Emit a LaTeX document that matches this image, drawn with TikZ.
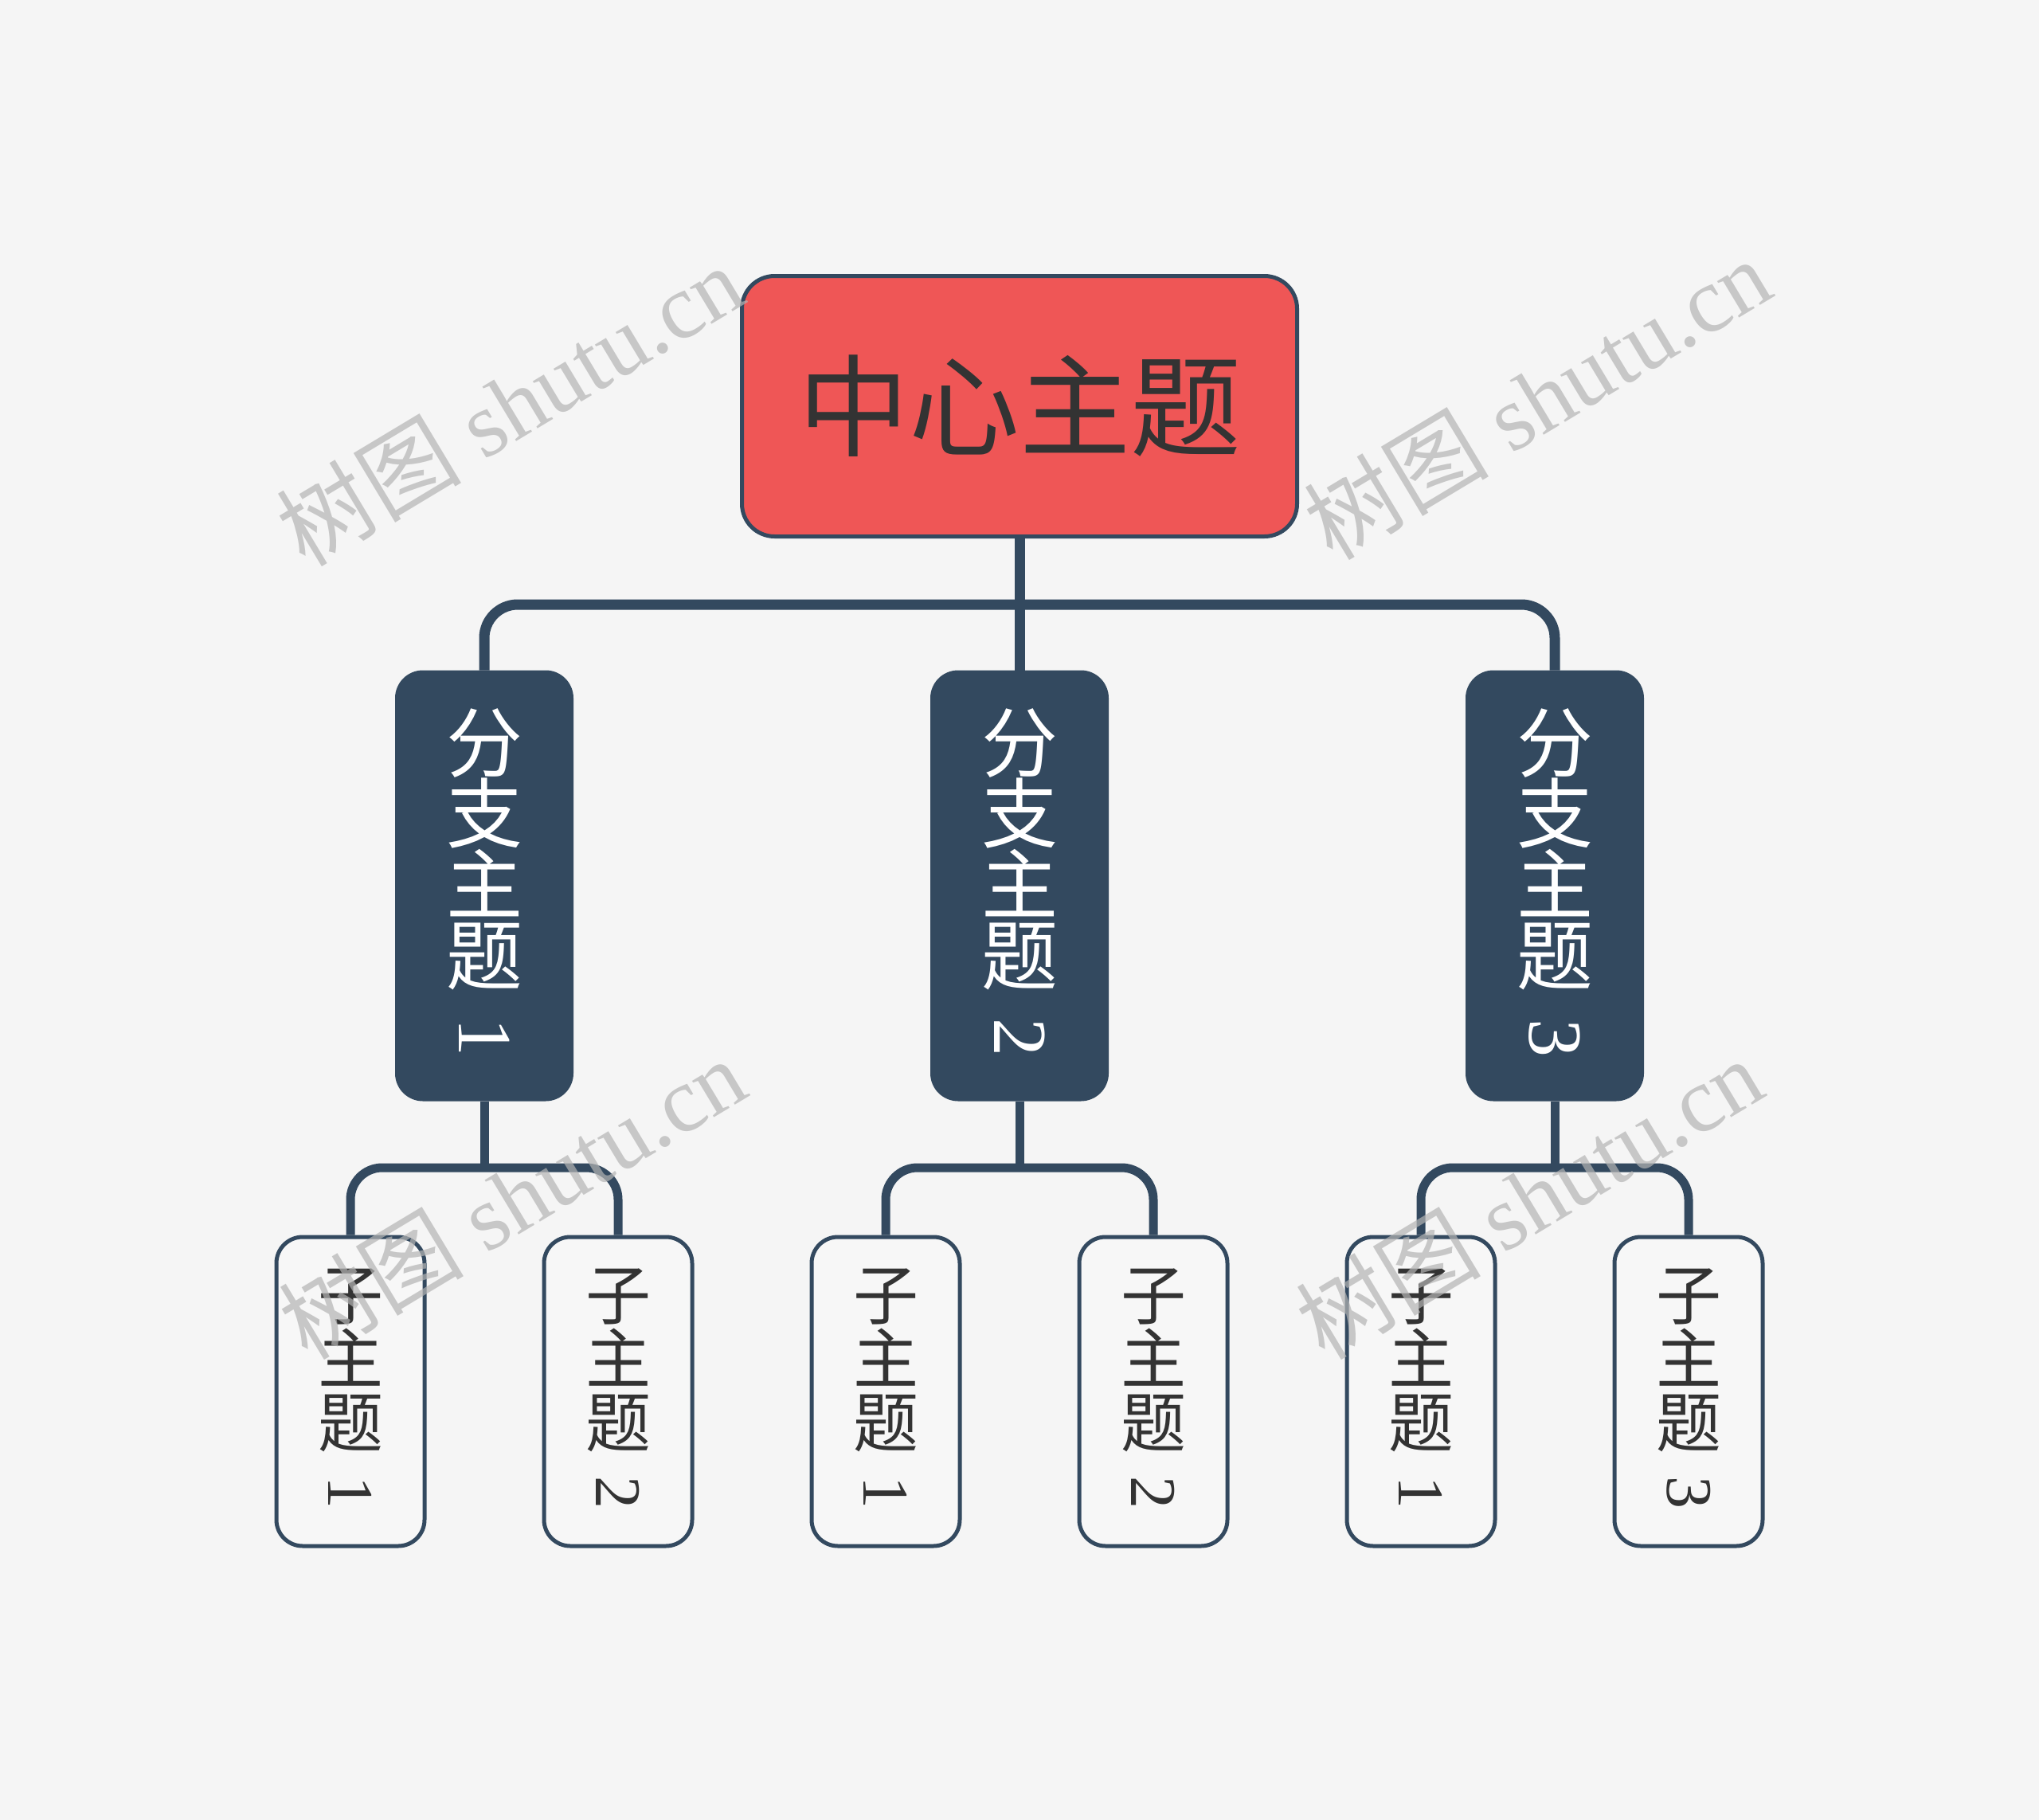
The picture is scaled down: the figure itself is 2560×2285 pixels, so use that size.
\documentclass[tikz,border=0pt]{standalone}
\usepackage{fontspec}
\usepackage{graphicx}
\usetikzlibrary{backgrounds}
\newfontfamily\cjk{Noto Sans CJK SC}
\newfontfamily\serifdig{Liberation Serif}
\definecolor{bgc}{HTML}{F5F5F5}
\definecolor{redc}{HTML}{EF5656}
\definecolor{navy}{HTML}{33495F}
\definecolor{darktxt}{HTML}{333333}
\definecolor{childfill}{HTML}{F7F7F7}
\definecolor{wmc}{HTML}{B4B4B4}
\newcommand\rdig[1]{{\serifdig\rotatebox[origin=c]{-90}{#1}}}
\tikzset{
  centralbox/.style={draw=navy, line width=5pt, fill=redc, rounded corners=41pt,
    minimum width=697pt, minimum height=327pt, inner sep=0pt,
    font=\cjk\fontsize{139}{139}\selectfont, text=darktxt},
  branchbox/.style={draw=navy, line width=4pt, fill=navy, rounded corners=33pt,
    minimum width=220pt, minimum height=537pt, inner sep=0pt, align=center,
    font=\cjk\fontsize{96}{89}\selectfont, text=white},
  childbox/.style={draw=navy, line width=5pt, fill=childfill, rounded corners=33pt,
    minimum width=186pt, minimum height=388pt, inner sep=0pt, align=center,
    font=\cjk\fontsize{82}{80}\selectfont, text=darktxt},
  mainconn/.style={draw=navy, line width=13pt, rounded corners=42pt},
  subconn/.style={draw=navy, line width=11pt, rounded corners=40pt},
  wm/.style={text=wmc, opacity=0.7, rotate=31, font=\serifdig\fontsize{116}{116}\selectfont, inner sep=0pt}
}
\begin{document}
\begin{tikzpicture}[x=1pt,y=-1pt]
\useasboundingbox (0,0) rectangle (2560,2285);
% junction points of the bars
\coordinate (mbar) at (1280,759);
\coordinate (g1) at (608,1466);
\coordinate (g2) at (1280,1466);
\coordinate (g3) at (1952,1466);
% nodes
\node[centralbox] (c) at (1280,510) {中心主题};
\node[branchbox] (b1) at (608,1112) {分\\支\\主\\题\\[10pt]\rdig{1}};
\node[branchbox] (b2) at (1280,1112) {分\\支\\主\\题\\[10pt]\rdig{2}};
\node[branchbox] (b3) at (1952,1112) {分\\支\\主\\题\\[10pt]\rdig{3}};
\node[childbox] (k11) at (440,1747) {子\\主\\题\\[4pt]\rdig{1}};
\node[childbox] (k12) at (776,1747) {子\\主\\题\\[4pt]\rdig{2}};
\node[childbox] (k21) at (1112,1747) {子\\主\\题\\[4pt]\rdig{1}};
\node[childbox] (k22) at (1448,1747) {子\\主\\题\\[4pt]\rdig{2}};
\node[childbox] (k31) at (1784,1747) {子\\主\\题\\[4pt]\rdig{1}};
\node[childbox] (k32) at (2120,1747) {子\\主\\题\\[4pt]\rdig{3}};
% background and connectors behind the boxes
\begin{scope}[on background layer]
\fill[bgc] (0,0) rectangle (2560,2285);
\path[mainconn] (c.south) -- (b2.north);
\path[mainconn] (b1.north) |- (mbar) -| (b3.north);
\path[subconn] (b1.south) -- (g1);
\path[subconn] (k11.north) |- (g1) -| (k12.north);
\path[subconn] (b2.south) -- (g2);
\path[subconn] (k21.north) |- (g2) -| (k22.north);
\path[subconn] (b3.south) -- (g3);
\path[subconn] (k31.north) |- (g3) -| (k32.north);
\end{scope}
% watermarks
\node[wm] (w1) at (640,508) {{\cjk 树图} shutu.cn};
\node[wm] (w2) at (1930,500) {{\cjk 树图} shutu.cn};
\node[wm] (w3) at (643,1504) {{\cjk 树图} shutu.cn};
\node[wm] (w4) at (1920,1504) {{\cjk 树图} shutu.cn};
\end{tikzpicture}
\end{document}
